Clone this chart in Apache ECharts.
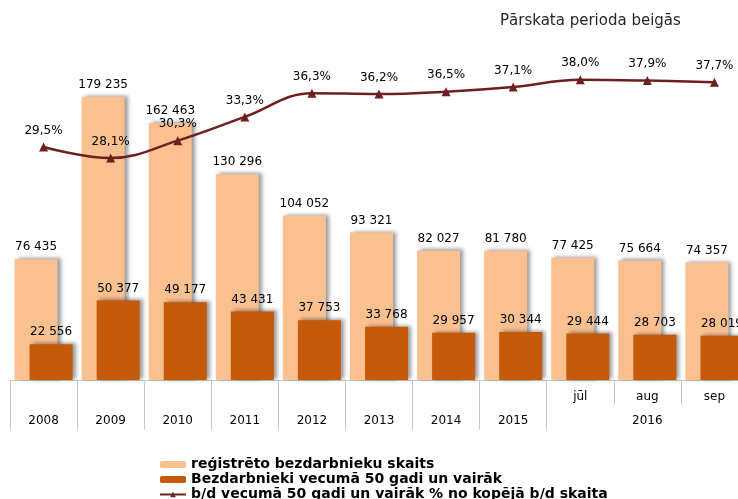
<!DOCTYPE html>
<html>
<head>
<meta charset="utf-8">
<script src="https://cdn.jsdelivr.net/npm/echarts@6/dist/echarts.min.js"></script>
<style>
  html, body { margin: 0; padding: 0; background: #fff; }
  #chart { width: 738px; height: 499px; }
</style>
</head>
<body>
<div id="chart"></div>
<script>
// kategorijas (apakšējā rinda - gadi, augšējā - mēneši 2016. gadā)
var monthLabels = ['', '', '', '', '', '', '', '', 'jūl', 'aug', 'sep'];
var yearLabels = ['2008', '2009', '2010', '2011', '2012', '2013', '2014', '2015', '', '2016', ''];

var totalUnemployed = [76435, 179235, 162463, 130296, 104052, 93321, 82027, 81780, 77425, 75664, 74357];
var unemployed50 = [22556, 50377, 49177, 43431, 37753, 33768, 29957, 30344, 29444, 28703, 28019];
var share50 = [29.5, 28.1, 30.3, 33.3, 36.3, 36.2, 36.5, 37.1, 38.0, 37.9, 37.7];

var fontName = 'DejaVu Sans';
var gridColor = '#c8c8c8';

function fmtNum(v) {
  return String(v).replace(/\B(?=(\d{3})+(?!\d))/g, ' ');
}

var chart = echarts.init(document.getElementById('chart'));

var barShadow = {
  shadowColor: 'rgba(0, 0, 0, 0.4)',
  shadowBlur: 4,
  shadowOffsetX: 3,
  shadowOffsetY: -1
};

var option = {
  animation: false,
  textStyle: { fontFamily: fontName },
  title: {
    text: 'Pārskata perioda beigās',
    left: 495,
    top: 9,
    textStyle: { fontFamily: fontName, fontSize: 15, fontWeight: 'normal', color: '#262626' }
  },
  legend: {
    orient: 'vertical',
    left: 159,
    top: 457,
    height: 80,
    itemWidth: 26,
    itemHeight: 7,
    itemGap: 0,
    padding: 0,
    textStyle: { fontFamily: fontName, fontSize: 14, lineHeight: 15, fontWeight: 'bold', color: '#000' },
    data: ['reģistrēto bezdarbnieku skaits', 'Bezdarbnieki vecumā 50 gadi un vairāk', 'b/d vecumā 50 gadi un vairāk % no kopējā b/d skaita']
  },
  grid: { left: 10, width: 738, top: 64, bottom: 119, containLabel: false, outerBoundsMode: 'none' },
  xAxis: [{
    type: 'category',
    position: 'bottom',
    data: monthLabels,
    axisLine: { lineStyle: { color: gridColor } },
    axisTick: { show: true, interval: 0, length: 25, lineStyle: { color: gridColor } },
    axisLabel: { interval: 0, margin: 11, fontSize: 12, color: '#000', fontFamily: fontName }
  }, {
    type: 'category',
    position: 'bottom',
    data: yearLabels,
    axisLine: { show: false },
    axisTick: {
      show: true,
      length: 50,
      lineStyle: { color: gridColor },
      interval: function (index) { return index < 9; }
    },
    axisLabel: { interval: 0, margin: 35, fontSize: 12, color: '#000', fontFamily: fontName }
  }],
  yAxis: [
    { type: 'value', min: 0, max: 200000, show: false, splitLine: { show: false } },
    { type: 'value', min: 0, max: 40, show: false, splitLine: { show: false } }
  ],
  series: [{
    name: 'reģistrēto bezdarbnieku skaits',
    type: 'bar',
    xAxisIndex: 0,
    yAxisIndex: 0,
    barWidth: 43,
    barGap: '-65%',
    data: totalUnemployed,
    itemStyle: Object.assign({ color: '#FAC090' }, barShadow),
    label: {
      show: true, position: 'top', distance: 6,
      fontSize: 12, color: '#000', fontFamily: fontName,
      formatter: function (p) { return fmtNum(p.value); }
    }
  }, {
    name: 'Bezdarbnieki vecumā 50 gadi un vairāk',
    type: 'bar',
    xAxisIndex: 0,
    yAxisIndex: 0,
    barWidth: 43,
    barGap: '-65%',
    data: unemployed50,
    itemStyle: Object.assign({ color: '#C55A0A' }, barShadow),
    label: {
      show: true, position: 'top', distance: 6,
      fontSize: 12, color: '#000', fontFamily: fontName,
      formatter: function (p) { return fmtNum(p.value); }
    }
  }, {
    name: 'b/d vecumā 50 gadi un vairāk % no kopējā b/d skaita',
    type: 'line',
    xAxisIndex: 0,
    yAxisIndex: 1,
    data: share50,
    smooth: 0.4,
    z: 5,
    symbol: 'triangle',
    symbolSize: 9,
    lineStyle: { color: '#6E2020', width: 2.5 },
    itemStyle: { color: '#6E2020' },
    label: {
      show: true, position: 'top', distance: 6,
      fontSize: 12, color: '#000', fontFamily: fontName,
      formatter: function (p) { return p.value.toFixed(1).replace('.', ',') + '%'; }
    }
  }]
};

chart.setOption(option);
</script>
</body>
</html>
